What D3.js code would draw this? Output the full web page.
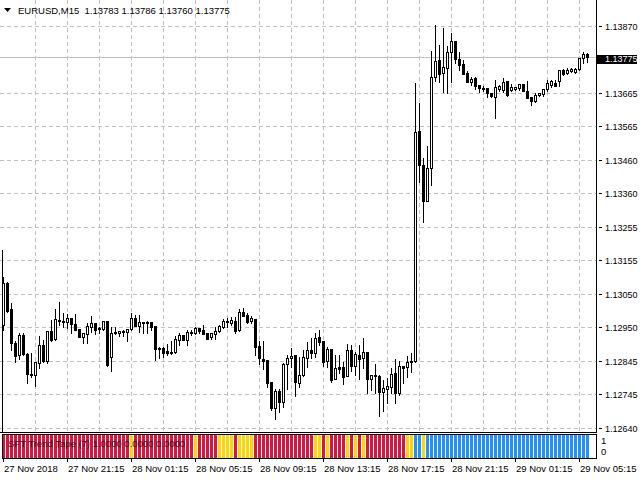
<!DOCTYPE html>
<html><head><meta charset="utf-8">
<script src="https://cdn.jsdelivr.net/npm/d3@7"></script>
<style>html,body{margin:0;padding:0;background:#fff;overflow:hidden}svg{display:block}</style>
</head><body><svg id="c" width="640" height="480"></svg>
<script>
const symbolTitle = "EURUSD,M15";
const headerValues = ["1.13783", "1.13786", "1.13760", "1.13775"];
const open = [
1.12955,1.13084,1.13004,1.12900,1.12864,1.12925,1.12867,1.12806,1.12803,1.12840,1.12894,1.12846,1.12937,1.12913,1.12970,1.12967,
1.12964,1.12977,1.12958,1.12943,1.12919,1.12928,1.12949,1.12961,1.12943,1.12943,1.12967,1.12858,1.12931,1.12931,1.12937,1.12934,
1.12943,1.12977,1.12952,1.12964,1.12961,1.12964,1.12952,1.12885,1.12885,1.12876,1.12870,1.12873,1.12910,1.12925,1.12910,1.12934,
1.12931,1.12946,1.12940,1.12931,1.12919,1.12928,1.12937,1.12949,1.12967,1.12961,1.12967,1.12940,1.12995,1.12986,1.12967,1.12974,
1.12891,1.12852,1.12849,1.12782,1.12702,1.12754,1.12721,1.12836,1.12855,1.12864,1.12779,1.12803,1.12855,1.12879,1.12870,1.12919,
1.12907,1.12846,1.12882,1.12791,1.12827,1.12827,1.12800,1.12879,1.12830,1.12864,1.12855,1.12873,1.12791,1.12803,1.12800,1.12751,
1.12760,1.12766,1.12809,1.12748,1.12830,1.12827,1.12843,1.12846,1.13549,1.13445,1.13335,1.13435,1.13714,1.13766,1.13726,1.13741,
1.13790,1.13824,1.13769,1.13754,1.13726,1.13699,1.13711,1.13689,1.13680,1.13680,1.13665,1.13653,1.13677,1.13674,1.13702,1.13674,
1.13677,1.13680,1.13693,1.13671,1.13653,1.13641,1.13659,1.13662,1.13677,1.13689,1.13696,1.13702,1.13735,1.13726,1.13732,1.13729,
1.13738,1.13772,1.13783];
const high = [
1.13102,1.13087,1.13023,1.12907,1.12931,1.12931,1.12870,1.12870,1.12843,1.12922,1.12910,1.12937,1.12970,1.13004,1.13026,1.12992,
1.12989,1.12977,1.12989,1.12943,1.12931,1.12961,1.12983,1.12961,1.12949,1.12967,1.12967,1.12949,1.12949,1.12937,1.12940,1.12943,
1.12992,1.12986,1.12986,1.12964,1.12967,1.12964,1.12952,1.12888,1.12888,1.12897,1.12907,1.12922,1.12931,1.12925,1.12940,1.12940,
1.12949,1.12946,1.12955,1.12931,1.12931,1.12949,1.12955,1.12974,1.12977,1.12980,1.12980,1.13004,1.13007,1.12992,1.12983,1.12974,
1.12907,1.12907,1.12849,1.12782,1.12760,1.12760,1.12840,1.12864,1.12885,1.12864,1.12858,1.12879,1.12904,1.12916,1.12931,1.12940,
1.12907,1.12888,1.12882,1.12864,1.12864,1.12843,1.12897,1.12894,1.12873,1.12894,1.12916,1.12873,1.12803,1.12836,1.12803,1.12788,
1.12794,1.12824,1.12852,1.12846,1.12830,1.12861,1.12870,1.13696,1.13634,1.13466,1.13503,1.13794,1.13873,1.13812,1.13864,1.13809,
1.13849,1.13824,1.13790,1.13766,1.13732,1.13714,1.13714,1.13689,1.13686,1.13680,1.13665,1.13705,1.13689,1.13711,1.13702,1.13693,
1.13683,1.13693,1.13693,1.13702,1.13653,1.13665,1.13665,1.13677,1.13705,1.13705,1.13705,1.13735,1.13738,1.13741,1.13741,1.13741,
1.13772,1.13790,1.13786];
const low = [
1.12940,1.12995,1.12879,1.12843,1.12852,1.12864,1.12779,1.12797,1.12769,1.12824,1.12843,1.12840,1.12907,1.12910,1.12955,1.12949,
1.12946,1.12931,1.12940,1.12919,1.12900,1.12900,1.12934,1.12928,1.12931,1.12940,1.12830,1.12815,1.12928,1.12922,1.12922,1.12907,
1.12940,1.12952,1.12934,1.12931,1.12931,1.12940,1.12848,1.12855,1.12858,1.12864,1.12867,1.12870,1.12894,1.12910,1.12894,1.12925,
1.12928,1.12931,1.12928,1.12913,1.12913,1.12913,1.12934,1.12946,1.12949,1.12955,1.12931,1.12937,1.12983,1.12961,1.12961,1.12864,
1.12836,1.12821,1.12766,1.12695,1.12667,1.12690,1.12705,1.12760,1.12827,1.12739,1.12766,1.12800,1.12827,1.12855,1.12858,1.12894,
1.12830,1.12827,1.12782,1.12791,1.12809,1.12776,1.12800,1.12815,1.12803,1.12791,1.12824,1.12748,1.12757,1.12748,1.12678,1.12693,
1.12718,1.12748,1.12718,1.12742,1.12779,1.12797,1.12812,1.12843,1.13393,1.13270,1.13335,1.13383,1.13702,1.13699,1.13668,1.13665,
1.13699,1.13757,1.13735,1.13723,1.13699,1.13689,1.13677,1.13668,1.13671,1.13653,1.13653,1.13588,1.13671,1.13668,1.13656,1.13671,
1.13674,1.13674,1.13671,1.13650,1.13628,1.13637,1.13656,1.13656,1.13671,1.13683,1.13686,1.13686,1.13720,1.13723,1.13729,1.13726,
1.13735,1.13757,1.13760];
const close = [
1.13084,1.12998,1.12900,1.12861,1.12925,1.12867,1.12806,1.12803,1.12843,1.12894,1.12846,1.12937,1.12910,1.12974,1.12967,1.12964,
1.12977,1.12958,1.12940,1.12919,1.12931,1.12952,1.12961,1.12940,1.12946,1.12967,1.12833,1.12931,1.12934,1.12937,1.12934,1.12943,
1.12977,1.12952,1.12964,1.12961,1.12964,1.12949,1.12882,1.12882,1.12870,1.12870,1.12873,1.12913,1.12925,1.12910,1.12934,1.12931,
1.12946,1.12937,1.12928,1.12913,1.12931,1.12937,1.12952,1.12967,1.12964,1.12970,1.12937,1.12995,1.12983,1.12964,1.12977,1.12888,
1.12855,1.12846,1.12779,1.12702,1.12754,1.12721,1.12836,1.12855,1.12861,1.12782,1.12803,1.12858,1.12879,1.12870,1.12916,1.12904,
1.12843,1.12882,1.12787,1.12824,1.12821,1.12797,1.12879,1.12830,1.12867,1.12852,1.12873,1.12791,1.12803,1.12800,1.12751,1.12763,
1.12769,1.12806,1.12748,1.12830,1.12824,1.12843,1.12846,1.13546,1.13445,1.13335,1.13435,1.13714,1.13763,1.13723,1.13745,1.13790,
1.13824,1.13769,1.13751,1.13723,1.13699,1.13708,1.13686,1.13680,1.13677,1.13665,1.13656,1.13683,1.13686,1.13699,1.13659,1.13683,
1.13683,1.13693,1.13671,1.13650,1.13641,1.13659,1.13665,1.13677,1.13696,1.13702,1.13686,1.13735,1.13723,1.13735,1.13738,1.13738,
1.13772,1.13784,1.13775];
// SFT Trend Tape state per bar: -1 down (red), 0 flat (yellow), 1 up (blue)
const trend = [
-1,-1,-1,-1,-1,-1,-1,-1,-1,-1,-1,-1,-1,-1,-1,-1,
-1,-1,-1,-1,-1,-1,-1,-1,-1,-1,-1,-1,-1,-1,-1,-1,
0,-1,-1,-1,-1,-1,-1,-1,-1,-1,-1,-1,-1,-1,-1,-1,
0,-1,-1,-1,-1,-1,0,0,0,0,-1,0,0,0,0,-1,
-1,-1,-1,-1,-1,-1,-1,-1,-1,-1,-1,-1,-1,-1,0,0,
-1,0,-1,-1,-1,-1,0,-1,0,-1,0,-1,-1,-1,-1,-1,
-1,-1,-1,-1,-1,0,0,1,1,0,1,1,1,1,1,1,
1,1,1,1,1,1,1,1,1,1,1,1,1,1,1,1,
1,1,1,1,1,1,1,1,1,1,1,1,1,1,1,1,
1,1,1];
const timeLabels = ["27 Nov 2018","27 Nov 21:15","28 Nov 01:15","28 Nov 05:15","28 Nov 09:15","28 Nov 13:15","28 Nov 17:15","28 Nov 21:15","29 Nov 01:15","29 Nov 05:15"];
const timeLabelBars = [0,16,32,48,64,80,96,112,128,144];
const priceTicks = ["1.13870","1.13665","1.13565","1.13460","1.13360","1.13255","1.13155","1.13050","1.12950","1.12845","1.12745","1.12640"];
const lastPrice = "1.13775";
const panelTitle = "SFT Trend Tape (7) 1.0000 0.0000 0.0000";
const panelTicks = ["1","0"];

const FONT = "'Liberation Sans', Arial, sans-serif";
const svg = d3.select("#c");
const n = open.length;
const x = d3.scaleLinear().domain([0, n - 1]).range([3.5, 3.5 + 4 * (n - 1)]);
const y = d3.scaleLinear().domain([1.12640, 1.13870]).range([428.5, 26.5]);
const yP = d3.scaleLinear().domain([0, 1]).range([458, 435]);
const trendColor = d3.scaleOrdinal().domain([-1, 0, 1]).range(["#DC143C", "#FFD700", "#1E90FF"]);
const RIGHT = 596.5, BOTTOM = 432.5;
const px = v => Math.floor(v) + 0.5;

svg.append("rect").attr("width", 640).attr("height", 480).attr("fill", "#fff");

// grid
const grid = svg.append("g").attr("shape-rendering", "crispEdges").attr("stroke", "#c0c0c0").attr("stroke-dasharray", "4,3");
grid.selectAll("line.h").data(priceTicks).join("line").attr("class", "h")
  .attr("x1", 0).attr("x2", RIGHT).attr("y1", d => px(y(+d))).attr("y2", d => px(y(+d)));
grid.selectAll("line.v").data(d3.range(8, n, 8)).join("line").attr("class", "v")
  .attr("x1", d => px(x(d))).attr("x2", d => px(x(d))).attr("y1", 0).attr("y2", BOTTOM);

// bid line
svg.append("line").attr("shape-rendering", "crispEdges").attr("stroke", "#c0c0c0")
  .attr("x1", 0).attr("x2", RIGHT).attr("y1", px(y(+lastPrice))).attr("y2", px(y(+lastPrice)));

// candles
const cg = svg.append("g").attr("shape-rendering", "crispEdges");
const idx = d3.range(n);
cg.selectAll("line.wick").data(idx).join("line").attr("class", "wick")
  .attr("x1", i => px(x(i))).attr("x2", i => px(x(i)))
  .attr("y1", i => Math.floor(y(high[i]))).attr("y2", i => Math.floor(y(low[i])) + 1)
  .attr("stroke", "#000");
cg.selectAll("g.body").data(idx).join("g").attr("class", "body").each(function(i) {
  const g = d3.select(this);
  const top = px(y(Math.max(open[i], close[i])));
  const bot = px(y(Math.min(open[i], close[i])));
  const cx = Math.floor(x(i));
  if (bot - top < 1) {
    g.append("line").attr("x1", cx - 1).attr("x2", cx + 2).attr("y1", top).attr("y2", top).attr("stroke", "#000");
  } else {
    g.append("rect").attr("x", cx - 0.5).attr("width", 2).attr("y", top).attr("height", bot - top)
      .attr("fill", close[i] >= open[i] ? "#fff" : "#000").attr("stroke", "#000");
  }
});

// frames
const fr = svg.append("g").attr("shape-rendering", "crispEdges").attr("stroke", "#000").attr("fill", "none");
fr.append("line").attr("x1", RIGHT).attr("x2", RIGHT).attr("y1", 0).attr("y2", BOTTOM);
fr.append("line").attr("x1", 0).attr("x2", RIGHT).attr("y1", BOTTOM).attr("y2", BOTTOM);
fr.append("line").attr("x1", 2.5).attr("x2", 2.5).attr("y1", 250).attr("y2", BOTTOM);

// price axis
fr.selectAll("line.pt").data(priceTicks).join("line").attr("class", "pt")
  .attr("x1", 599).attr("x2", 602).attr("y1", d => px(y(+d))).attr("y2", d => px(y(+d)));
svg.append("g").selectAll("text").data(priceTicks).join("text")
  .attr("x", 605).attr("y", d => Math.floor(y(+d)) + 4)
  .attr("font-family", FONT).attr("font-size", "9px").attr("fill", "#000").text(d => d);
const yl = Math.floor(y(+lastPrice));
svg.append("rect").attr("x", 597).attr("y", yl - 2).attr("width", 40).attr("height", 9).attr("fill", "#000");
svg.append("text").attr("x", 605).attr("y", yl + 5).attr("font-family", FONT).attr("font-size", "9px")
  .attr("fill", "#fff").text(lastPrice);

// header
svg.append("path").attr("d", "M4,8 L11,8 L7.5,12 Z").attr("fill", "#000");
svg.append("text").attr("x", 18).attr("y", 14).attr("font-family", FONT).attr("font-size", "9.5px")
  .attr("fill", "#000").attr("xml:space", "preserve").style("white-space", "pre")
  .text(symbolTitle + "  " + headerValues.join(" "));

// indicator panel
svg.append("g").attr("shape-rendering", "crispEdges").selectAll("rect").data(idx).join("rect")
  .attr("x", i => Math.floor(x(i)) - 1).attr("width", 3)
  .attr("y", yP(1)).attr("height", yP(0) - yP(1))
  .attr("fill", i => trendColor(trend[i]));
svg.append("rect").attr("shape-rendering", "crispEdges").attr("x", 2.5).attr("y", 434.5)
  .attr("width", RIGHT - 2.5).attr("height", 24).attr("fill", "none").attr("stroke", "#000");
svg.append("text").attr("x", 8).attr("y", 447).attr("font-family", FONT).attr("font-size", "9.5px")
  .attr("fill", "#1a1a1a").text(panelTitle);
svg.append("g").selectAll("text").data(panelTicks).join("text")
  .attr("x", 601).attr("y", (d) => yP(+d) + (+d === 1 ? 8.5 : -3.5))
  .attr("font-family", FONT).attr("font-size", "9.5px").attr("fill", "#000").text(d => d);

// time axis
fr.selectAll("line.tt").data(timeLabelBars).join("line").attr("class", "tt")
  .attr("x1", d => px(x(d))).attr("x2", d => px(x(d))).attr("y1", 459).attr("y2", 462);
svg.append("g").selectAll("text").data(timeLabels).join("text")
  .attr("x", (d, k) => Math.floor(x(timeLabelBars[k])) + 1).attr("y", 472)
  .attr("font-family", FONT).attr("font-size", "9.5px").attr("fill", "#000").text(d => d);
</script></body></html>
